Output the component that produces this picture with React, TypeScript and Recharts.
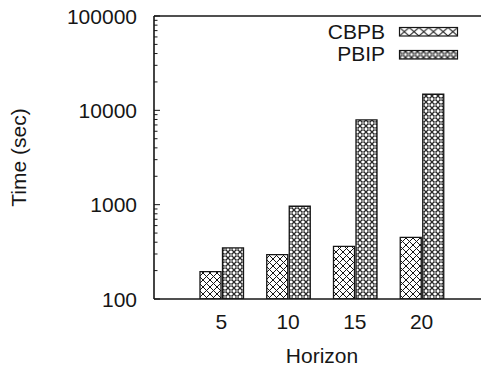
import React from 'react';
import { BarChart, Bar, XAxis, YAxis, Legend, ReferenceLine } from 'recharts';

const horizons = ['5', '10', '15', '20'];
const cbpbTimes = [195, 295, 362, 451];
const pbipTimes = [348, 962, 7910, 14800];
const seriesNames = ['CBPB', 'PBIP'];
const majorTicks = [100, 1000, 10000, 100000];
const minorSteps = [2, 3, 4, 5, 6, 7, 8, 9];
const xTitle = 'Horizon';
const yTitle = 'Time (sec)';

const FONT = '"Liberation Sans", Arial, Helvetica, sans-serif';
const INK = '#161616';

const data = horizons.map((h, i) => ({
  horizon: h,
  [seriesNames[0]]: cbpbTimes[i],
  [seriesNames[1]]: pbipTimes[i],
}));

const yTicks = [
  ...majorTicks,
  ...majorTicks.slice(0, -1).flatMap((m) => minorSteps.map((s) => m * s)),
].sort((a, b) => a - b);

const patternIds = ['patCBPB', 'patPBIP'];

const YTick = (props: any) => {
  const { x, y, payload } = props;
  const v = payload.value;
  const major = majorTicks.includes(v);
  return (
    <g>
      <line x1={x} x2={x + (major ? 6 : 3.5)} y1={y} y2={y} stroke={INK} strokeWidth={1} />
      {major && (
        <text x={x - 17} y={y + 7.5} textAnchor="end" fontSize={21} fill={INK} fontFamily={FONT}>
          {v}
        </text>
      )}
    </g>
  );
};

const XTick = (props: any) => {
  const { x, y, payload } = props;
  return (
    <text x={x} y={y + 30} textAnchor="middle" fontSize={21} fill={INK} fontFamily={FONT}>
      {payload.value}
    </text>
  );
};

const XLabel = (props: any) => {
  const vb = props.viewBox || { x: 154, y: 299 };
  return (
    <text x={322} y={vb.y + 64} textAnchor="middle" fontSize={21} fill={INK} fontFamily={FONT}>
      {xTitle}
    </text>
  );
};

const YLabel = () => (
  <text
    x={26}
    y={157.5}
    transform="rotate(-90, 26, 157.5)"
    textAnchor="middle"
    fontSize={21}
    fill={INK}
    fontFamily={FONT}
  >
    {yTitle}
  </text>
);

const Patterns = ({ prefix, cw, ch, x0, y0 }: any) => (
  <>
    <pattern id={`${prefix}0`} patternUnits="userSpaceOnUse" width={cw} height={ch} x={x0} y={y0}>
      <rect width={cw} height={ch} fill="#fff" />
      <path d={`M0,0 L${cw},${ch} M${cw},0 L0,${ch}`} stroke={INK} strokeWidth={1} />
    </pattern>
    <pattern id={`${prefix}1`} patternUnits="userSpaceOnUse" width={6} height={6} x={x0} y={y0}>
      <rect width={6} height={6} fill="#fff" />
      <path d="M0,0 L6,6 M6,0 L0,6" stroke="#2a2a2a" strokeWidth={1.3} />
      <circle cx={3} cy={3} r={1.25} fill="#fff" stroke="#222" strokeWidth={0.7} />
    </pattern>
  </>
);

const renderLegend = (props: any) => {
  const payload = props.payload || [];
  return (
    <svg width={481} height={70} style={{ display: 'block', overflow: 'visible' }}>
      <defs>
        <Patterns prefix="leg" cw={9.7} ch={8.5} x0={399.5} y0={27.5} />
      </defs>
      {payload.map((entry: any, i: number) => (
        <g key={entry.value}>
          <text x={385} y={38.5 + i * 22.7} textAnchor="end" fontSize={21} fill={INK} fontFamily={FONT}>
            {entry.value}
          </text>
          <rect
            x={399.5}
            y={27.5 + i * 23}
            width={58}
            height={8.5}
            fill={`url(#leg${i})`}
            stroke={INK}
            strokeWidth={1.2}
          />
        </g>
      ))}
    </svg>
  );
};

export default function App() {
  return (
    <div
      style={{
        position: 'absolute',
        left: 0,
        top: 0,
        width: 481,
        height: 371,
        overflow: 'hidden',
        background: '#fff',
      }}
    >
      <BarChart
        width={481}
        height={371}
        data={data}
        margin={{ top: 16, right: 0, bottom: 0, left: 0 }}
        barGap={1.5}
      >
        <defs>
          <Patterns prefix="pat" cw={7} ch={7} x0={0} y0={0} />
        </defs>
        <XAxis
          dataKey="horizon"
          height={72}
          interval={0}
          tickLine={false}
          tickSize={0}
          tickMargin={0}
          padding={{ left: 34, right: 26 }}
          axisLine={{ stroke: INK, strokeWidth: 1.6 }}
          tick={<XTick />}
          label={<XLabel />}
        />
        <YAxis
          width={154}
          scale="log"
          domain={[100, 100000]}
          allowDataOverflow
          ticks={yTicks}
          interval={0}
          tickLine={false}
          tickSize={0}
          tickMargin={0}
          axisLine={{ stroke: INK, strokeWidth: 1.6 }}
          tick={<YTick />}
          label={<YLabel />}
        />
        <ReferenceLine y={100000} stroke={INK} strokeWidth={1.6} />
        <Legend
          layout="vertical"
          align="center"
          verticalAlign="middle"
          wrapperStyle={{ left: 0, top: 0, width: 481, height: 70 }}
          content={renderLegend}
        />
        {seriesNames.map((name, i) => (
          <Bar
            key={name}
            dataKey={name}
            name={name}
            fill={`url(#${patternIds[i] === 'patCBPB' ? 'pat0' : 'pat1'})`}
            stroke={INK}
            strokeWidth={1.3}
            barSize={21}
            isAnimationActive={false}
          />
        ))}
      </BarChart>
    </div>
  );
}
